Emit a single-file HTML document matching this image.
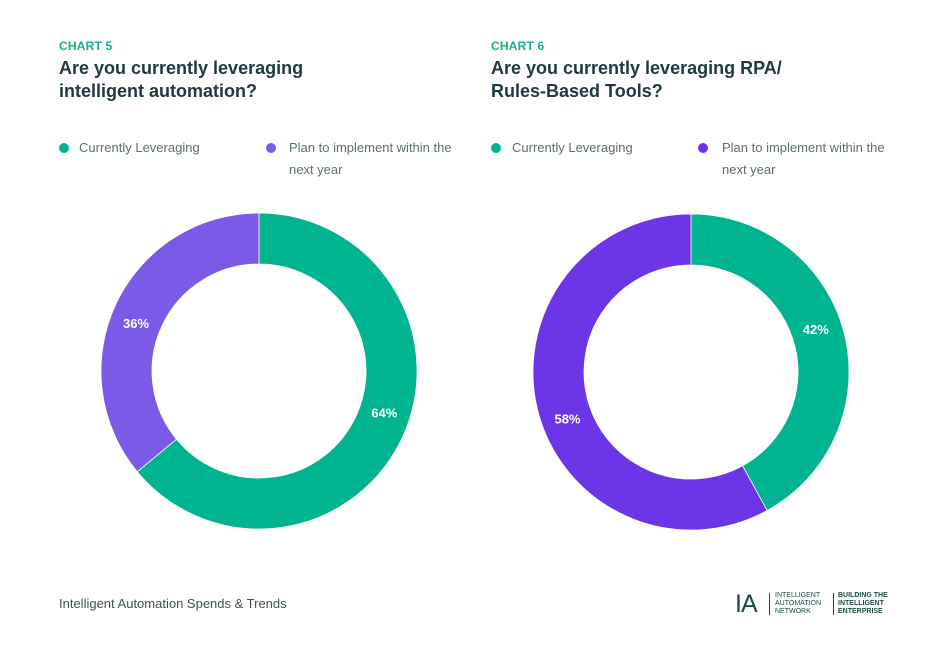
<!DOCTYPE html>
<html><head><meta charset="utf-8"><style>
body{margin:0;width:949px;height:647px;background:#fff;font-family:"Liberation Sans",sans-serif;position:relative;overflow:hidden}
.abs{position:absolute}
.kick{font-size:12px;font-weight:bold;color:#12b08d;letter-spacing:0.2px}
.title{font-size:18px;font-weight:bold;color:#1d3a3f;line-height:23px}
.leg{font-size:13px;color:#5c6f73;line-height:22px}
.dot{width:10px;height:10px;border-radius:50%}
</style></head><body>
<div class="abs kick" style="left:59px;top:39px">CHART 5</div>
<div class="abs title" style="left:59px;top:57px">Are you currently leveraging<br>intelligent automation?</div>
<div class="abs kick" style="left:491px;top:39px">CHART 6</div>
<div class="abs title" style="left:491px;top:57px">Are you currently leveraging RPA/<br>Rules-Based Tools?</div>

<div class="abs dot" style="left:59px;top:143px;background:#00b48f"></div>
<div class="abs leg" style="left:79px;top:137px">Currently Leveraging</div>
<div class="abs dot" style="left:266px;top:143px;background:#7b5ae8"></div>
<div class="abs leg" style="left:289px;top:137px;width:180px">Plan to implement within the next year</div>
<div class="abs dot" style="left:491px;top:143px;background:#00b48f"></div>
<div class="abs leg" style="left:512px;top:137px">Currently Leveraging</div>
<div class="abs dot" style="left:698px;top:143px;background:#6c35e8"></div>
<div class="abs leg" style="left:722px;top:137px;width:180px">Plan to implement within the next year</div>

<svg class="abs" style="left:0;top:0" width="949" height="647" id="svg"></svg>

<div class="abs" style="left:59px;top:596px;font-size:13px;color:#3e5256">Intelligent Automation Spends &amp; Trends</div>
<div class="abs" style="left:735px;top:590px;font-size:25px;color:#1d4a45;letter-spacing:-1px">IA</div>
<div class="abs" style="left:769px;top:593px;width:1px;height:22px;background:#1d4a45"></div>
<div class="abs" style="left:775px;top:592px;font-size:7px;line-height:8px;color:#1d4a45">INTELLIGENT<br>AUTOMATION<br>NETWORK</div>
<div class="abs" style="left:833px;top:593px;width:1px;height:22px;background:#1d4a45"></div>
<div class="abs" style="left:838px;top:592px;font-size:7px;line-height:8px;color:#1d4a45;font-weight:bold">BUILDING THE<br>INTELLIGENT<br>ENTERPRISE</div>

<script>
const categories = ["Currently Leveraging", "Plan to implement within the next year"];
const chart5Values = [64, 36];
const chart6Values = [42, 58];
const chart5Colors = ["#00b48f", "#7b5ae8"];
const chart6Colors = ["#00b48f", "#6c35e8"];
const svg = document.getElementById('svg');
const NS = "http://www.w3.org/2000/svg";
function pt(cx, cy, r, f) { const a = f * 2 * Math.PI; return [cx + r * Math.sin(a), cy - r * Math.cos(a)]; }
function donut(cx, cy, vals, cols, name) {
  const total = vals.reduce((a, b) => a + b, 0);
  const R = 158, r = 107;
  let acc = 0;
  vals.forEach((v, i) => {
    const f0 = acc / total, f1 = (acc + v) / total; acc += v;
    const large = (f1 - f0) > 0.5 ? 1 : 0;
    const [x0, y0] = pt(cx, cy, R, f0), [x1, y1] = pt(cx, cy, R, f1);
    const [x2, y2] = pt(cx, cy, r, f1), [x3, y3] = pt(cx, cy, r, f0);
    const p = document.createElementNS(NS, 'path');
    p.setAttribute('d', `M${x0},${y0} A${R},${R} 0 ${large} 1 ${x1},${y1} L${x2},${y2} A${r},${r} 0 ${large} 0 ${x3},${y3} Z`);
    p.setAttribute('fill', cols[i]);
    p.setAttribute('stroke', '#fff'); p.setAttribute('stroke-width', '0.8');
    
    
    svg.appendChild(p);
    const [lx, ly] = pt(cx, cy, 132, f0 + (f1 - f0) * 0.47);
    const t = document.createElementNS(NS, 'text');
    t.setAttribute('x', lx); t.setAttribute('y', ly + 5);
    t.setAttribute('text-anchor', 'middle');
    t.setAttribute('fill', '#fff'); t.setAttribute('font-size', '13');
    t.setAttribute('font-weight', 'bold'); t.setAttribute('font-family', 'Liberation Sans, sans-serif');
    t.textContent = v + '%';
    
    
    svg.appendChild(t);
  });
}
donut(259, 371, chart5Values, chart5Colors, 'chart5');
donut(691, 372, chart6Values, chart6Colors, 'chart6');
</script>
</body></html>
